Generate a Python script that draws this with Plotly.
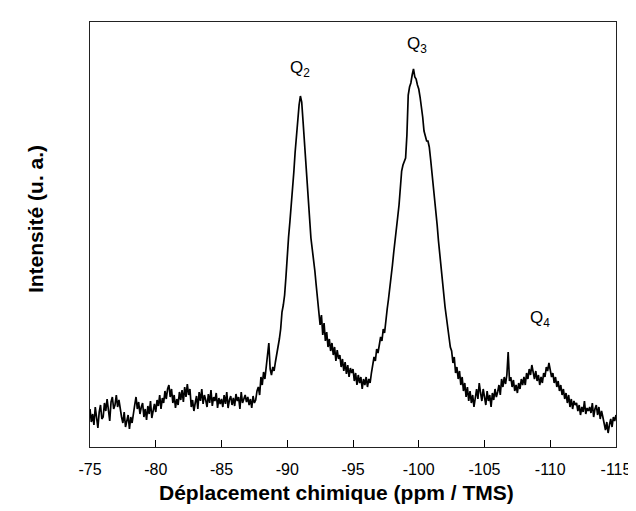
import numpy as np
import plotly.graph_objects as go

# Chemical shift grid (ppm), 0.1 ppm step from -75 to -115
ppm = np.round(np.linspace(-75.0, -115.0, 401), 1)

# Intensity (arbitrary units), one row per ppm (x.0 .. x.9)
intensity = [
    38, 25, 33, 22, 40, 30, 19, 35, 42, 28,      # -75
    30, 44, 36, 48, 33, 26, 45, 50, 38, 42,      # -76
    52, 40, 47, 36, 30, 24, 35, 20, 28, 32,      # -77
    18, 30, 24, 35, 42, 50, 38, 45, 33, 40,      # -78
    44, 30, 38, 27, 41, 33, 46, 29, 37, 43,      # -79
    35, 47, 41, 52, 38, 49, 44, 56, 48, 58,      # -80
    62, 50, 58, 44, 52, 39, 48, 42, 55, 47,      # -81
    57, 45, 60, 50, 63, 52, 58, 40, 47, 36,      # -82
    44, 51, 38, 55, 46, 58, 43, 52, 47, 40,      # -83
    53, 44, 57, 41, 50, 46, 54, 39, 49, 43,      # -84
    48, 40, 52, 43, 55, 39, 47, 51, 42, 49,      # -85
    41, 53, 46, 50, 38, 55, 44, 49, 52, 45,      # -86
    50, 42, 48, 39, 51, 44, 47, 56, 60, 52,      # -87
    70, 62, 75, 68, 80, 90, 104, 78, 72, 80,     # -88
    76, 85, 92, 98, 108, 118, 135, 142, 152, 170,  # -89
    195, 210, 225, 240, 255, 275, 295, 312, 330, 342,  # -90
    351, 345, 326, 305, 286, 262, 242, 225, 209, 198,  # -91
    188, 176, 162, 150, 138, 122, 132, 112, 124, 106,  # -92
    115, 100, 108, 96, 104, 92, 100, 86, 97, 88,   # -93
    92, 80, 88, 76, 85, 73, 82, 70, 79, 74,       # -94
    78, 66, 74, 62, 72, 64, 70, 58, 68, 62,       # -95
    70, 60, 68, 64, 74, 82, 90, 86, 98, 94,       # -96
    102, 110, 106, 118, 114, 129, 138, 148, 158, 170,  # -97
    182, 195, 205, 215, 230, 242, 258, 276, 282, 286,  # -98
    289, 312, 352, 360, 364, 372, 378, 370, 368, 362,  # -99
    358, 350, 342, 330, 316, 310, 306, 306, 300, 288,  # -100
    276, 262, 246, 234, 222, 206, 192, 180, 166, 152,  # -101
    140, 130, 122, 110, 100, 96, 84, 90, 74, 80,   # -102
    68, 76, 62, 70, 56, 64, 50, 60, 46, 56,       # -103
    44, 52, 40, 50, 58, 48, 64, 54, 46, 58,       # -104
    50, 42, 56, 46, 52, 40, 54, 47, 58, 50,       # -105
    55, 62, 52, 68, 60, 70, 63, 72, 95, 66,       # -106
    70, 60, 67, 56, 62, 54, 64, 58, 68, 62,       # -107
    70, 62, 74, 68, 78, 72, 82, 74, 68, 76,       # -108
    66, 72, 62, 70, 64, 74, 70, 80, 76, 84,       # -109
    78, 70, 74, 64, 70, 60, 66, 56, 62, 52,       # -110
    58, 48, 54, 44, 52, 40, 48, 38, 46, 42,       # -111
    44, 36, 42, 32, 40, 35, 46, 33, 39, 36,       # -112
    40, 34, 44, 30, 38, 42, 32, 40, 28, 36,       # -113
    30, 24, 17, 25, 14, 22, 28, 20, 30, 26,       # -114
    32,                                           # -115
]

tick_vals = [-75, -80, -85, -90, -95, -100, -105, -110, -115]
tick_text = ["-75", "-80", "-85", "-90", "-95", "-100", "-105", "-110", "-115"]

peak_labels = ["Q<sub>2</sub>", "Q<sub>3</sub>", "Q<sub>4</sub>"]
peak_x = [-91.0, -99.9, -109.2]
peak_y = [378, 402, 128]

font_family = "Liberation Sans, Arial, sans-serif"

fig = go.Figure()
fig.add_trace(go.Scatter(
    x=ppm, y=intensity, mode="lines",
    line=dict(color="black", width=1.7),
    showlegend=False, hoverinfo="skip",
))

for t, xv, yv in zip(peak_labels, peak_x, peak_y):
    fig.add_annotation(x=xv, y=yv, xref="x", yref="y", text=t, showarrow=False,
                       font=dict(family=font_family, size=17, color="black"),
                       xanchor="center", yanchor="middle")

fig.add_annotation(x=0.468, y=-0.106, xref="paper", yref="paper",
                   text="<b>Déplacement chimique (ppm / TMS)</b>", showarrow=False,
                   font=dict(family=font_family, size=21, color="black"),
                   xanchor="center", yanchor="middle")
fig.add_annotation(x=-0.104, y=0.537, xref="paper", yref="paper",
                   text="<b>Intensité (u. a.)</b>", showarrow=False, textangle=-90,
                   font=dict(family=font_family, size=21, color="black"),
                   xanchor="center", yanchor="middle")

fig.update_layout(
    width=636, height=511,
    margin=dict(l=82, r=20, t=14, b=72),
    paper_bgcolor="white", plot_bgcolor="white",
    font=dict(family=font_family, color="black"),
)
fig.update_xaxes(
    range=[-75, -115], tickvals=tick_vals, ticktext=tick_text,
    ticks="inside", ticklen=7, tickwidth=1, tickcolor="black",
    tickfont=dict(family=font_family, size=16, color="black"),
    ticklabelstandoff=8,
    showline=True, linecolor="#222222", linewidth=1.3, mirror=True,
    showgrid=False, zeroline=False,
)
fig.update_yaxes(
    range=[0, 425], showticklabels=False, ticks="",
    showline=True, linecolor="#222222", linewidth=1.3, mirror=True,
    showgrid=False, zeroline=False,
)

fig.write_html("out.html")
